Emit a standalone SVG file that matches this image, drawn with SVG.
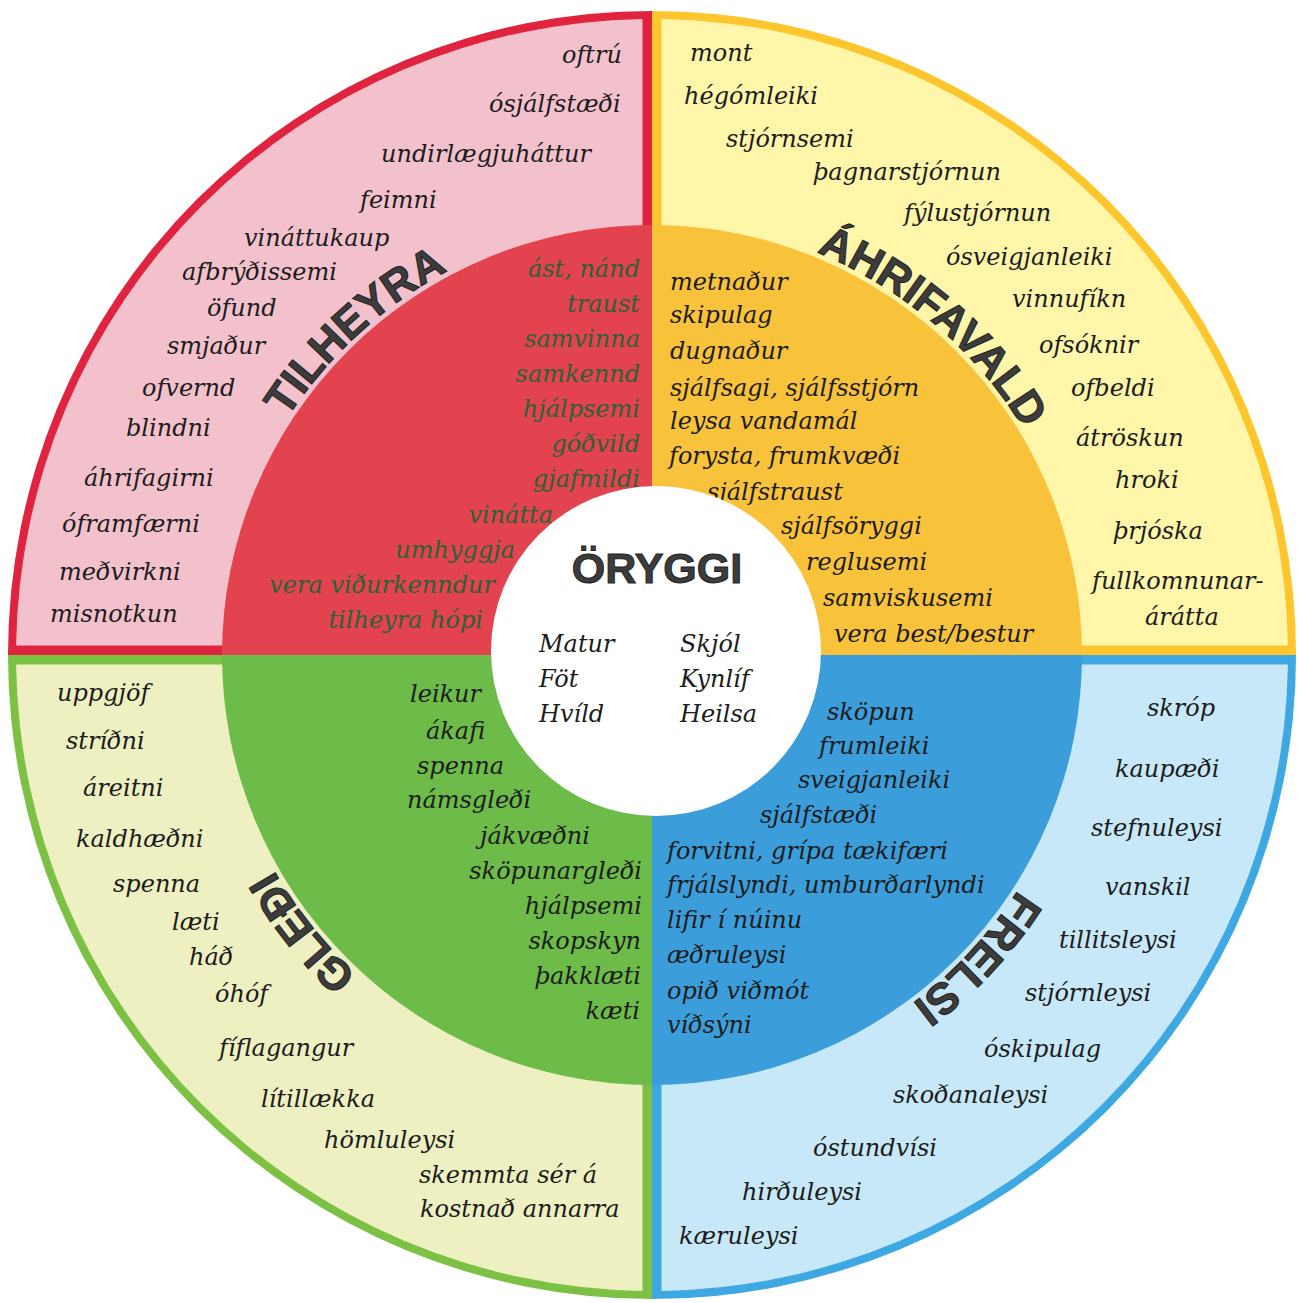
<svg xmlns="http://www.w3.org/2000/svg" width="1298" height="1303" viewBox="0 0 1298 1303">
  <style>
    .t { font-family: "DejaVu Serif", "Liberation Serif", serif; font-style: italic; font-size: 24px; fill: #1c1c1c; }
    .gr { fill: #2a6236; }
    .end { text-anchor: end; }
    .lab { font-family: "Liberation Sans", Arial, sans-serif; font-weight: bold; font-size: 44px; fill: #3c3c3c; stroke: #1f1f1f; stroke-width: 1; }
    .core { font-family: "Liberation Sans", Arial, sans-serif; font-weight: bold; font-size: 43px; fill: #3c3c3c; stroke: #1f1f1f; stroke-width: 1; }
  </style>
  <defs>
    <!-- baseline arcs (r = 435) for the quadrant titles, centred on the wheel hub -->
    <path id="arc-tl" d="M220.72,598.23 A435,435 0 0,1 633.03,220.41"/>
    <path id="arc-tr" d="M655.80,220.02 A435,435 0 0,1 1081.04,583.20"/>
    <path id="arc-bl" d="M565.27,1081.27 A435,435 0 0,1 217.15,643.61"/>
    <path id="arc-br" d="M1086.40,677.77 A435,435 0 0,1 705.01,1086.76"/>
  </defs>

  <rect width="1298" height="1303" fill="#ffffff"/>

  <!-- Top-left: belonging -->
  <g id="q-tilheyra">
    <path d="M652,655 L652,11 A644,644 0 0,0 8,655 Z" fill="#e0243f"/>
    <path d="M642.5,645.5 L642.5,19.07 A636,636 0 0,0 16.07,645.5 Z" fill="#f3c1cc"/>
    <path d="M652,655 L652,225 A430,430 0 0,0 222,655 Z" fill="#e3434e"/>
    <text class="t" x="562" y="63">oftrú</text>
    <text class="t" x="489" y="112">ósjálfstæði</text>
    <text class="t" x="381" y="162">undirlægjuháttur</text>
    <text class="t" x="360" y="208">feimni</text>
    <text class="t" x="244" y="246">vináttukaup</text>
    <text class="t" x="182" y="280">afbrýðissemi</text>
    <text class="t" x="207" y="316">öfund</text>
    <text class="t" x="167" y="354">smjaður</text>
    <text class="t" x="142" y="396">ofvernd</text>
    <text class="t" x="126" y="436">blindni</text>
    <text class="t" x="84" y="486">áhrifagirni</text>
    <text class="t" x="62" y="532">óframfærni</text>
    <text class="t" x="59" y="580">meðvirkni</text>
    <text class="t" x="50" y="622">misnotkun</text>
    <text class="t gr end" x="640" y="277">ást, nánd</text>
    <text class="t gr end" x="640" y="312">traust</text>
    <text class="t gr end" x="640" y="347">samvinna</text>
    <text class="t gr end" x="640" y="382">samkennd</text>
    <text class="t gr end" x="640" y="417">hjálpsemi</text>
    <text class="t gr end" x="640" y="452">góðvild</text>
    <text class="t gr end" x="640" y="487">gjafmildi</text>
    <text class="t gr end" x="553" y="523">vinátta</text>
    <text class="t gr end" x="515" y="558">umhyggja</text>
    <text class="t gr end" x="495" y="593">vera viðurkenndur</text>
    <text class="t gr end" x="483" y="628">tilheyra hópi</text>
    <text class="lab"><textPath href="#arc-tl" startOffset="50%" text-anchor="middle">TILHEYRA</textPath></text>
  </g>

  <!-- Top-right: influence -->
  <g id="q-ahrifavald">
    <path d="M652,655 L652,11 A644,644 0 0,1 1296,655 Z" fill="#fcc62c"/>
    <path d="M661.5,645.5 L661.5,19.07 A636,636 0 0,1 1287.93,645.5 Z" fill="#fff6a9"/>
    <path d="M652,655 L652,225 A430,430 0 0,1 1082,655 Z" fill="#f9c23b"/>
    <text class="t" x="690" y="61">mont</text>
    <text class="t" x="684" y="104">hégómleiki</text>
    <text class="t" x="726" y="147">stjórnsemi</text>
    <text class="t" x="813" y="180">þagnarstjórnun</text>
    <text class="t" x="904" y="221">fýlustjórnun</text>
    <text class="t" x="946" y="265">ósveigjanleiki</text>
    <text class="t" x="1012" y="307">vinnufíkn</text>
    <text class="t" x="1039" y="353">ofsóknir</text>
    <text class="t" x="1071" y="396">ofbeldi</text>
    <text class="t" x="1076" y="446">átröskun</text>
    <text class="t" x="1115" y="488">hroki</text>
    <text class="t" x="1113" y="539">þrjóska</text>
    <text class="t" x="1092" y="589">fullkomnunar-</text>
    <text class="t" x="1145" y="625">árátta</text>
    <text class="t" x="670" y="290">metnaður</text>
    <text class="t" x="670" y="323">skipulag</text>
    <text class="t" x="670" y="359">dugnaður</text>
    <text class="t" x="670" y="396">sjálfsagi, sjálfsstjórn</text>
    <text class="t" x="670" y="429">leysa vandamál</text>
    <text class="t" x="669" y="464">forysta, frumkvæði</text>
    <text class="t" x="707" y="500">sjálfstraust</text>
    <text class="t" x="781" y="534">sjálfsöryggi</text>
    <text class="t" x="806" y="570">reglusemi</text>
    <text class="t" x="823" y="606">samviskusemi</text>
    <text class="t" x="834" y="642">vera best/bestur</text>
    <text class="lab"><textPath href="#arc-tr" startOffset="50%" text-anchor="middle">ÁHRIFAVALD</textPath></text>
  </g>

  <!-- Bottom-left: joy -->
  <g id="q-gledi">
    <path d="M652,655 L8,655 A644,644 0 0,0 652,1299 Z" fill="#7cc144"/>
    <path d="M642.5,664.5 L16.07,664.5 A636,636 0 0,0 642.5,1290.93 Z" fill="#eef0c1"/>
    <path d="M652,655 L222,655 A430,430 0 0,0 652,1085 Z" fill="#6dbb48"/>
    <text class="t" x="57" y="701">uppgjöf</text>
    <text class="t" x="66" y="749">stríðni</text>
    <text class="t" x="83" y="796">áreitni</text>
    <text class="t" x="76" y="847">kaldhæðni</text>
    <text class="t" x="113" y="892">spenna</text>
    <text class="t" x="172" y="930">læti</text>
    <text class="t" x="189" y="965">háð</text>
    <text class="t" x="215" y="1002">óhóf</text>
    <text class="t" x="219" y="1056">fíflagangur</text>
    <text class="t" x="261" y="1107">lítillækka</text>
    <text class="t" x="324" y="1148">hömluleysi</text>
    <text class="t" x="419" y="1183">skemmta sér á</text>
    <text class="t" x="420" y="1217">kostnað annarra</text>
    <text class="t" x="410" y="702">leikur</text>
    <text class="t" x="426" y="739">ákafi</text>
    <text class="t" x="417" y="774">spenna</text>
    <text class="t" x="407" y="808">námsgleði</text>
    <text class="t" x="480" y="844">jákvæðni</text>
    <text class="t end" x="642" y="879">sköpunargleði</text>
    <text class="t end" x="642" y="914">hjálpsemi</text>
    <text class="t end" x="641" y="949">skopskyn</text>
    <text class="t end" x="641" y="984">þakklæti</text>
    <text class="t end" x="640" y="1019">kæti</text>
    <text class="lab"><textPath href="#arc-bl" startOffset="50%" text-anchor="middle">GLEÐI</textPath></text>
  </g>

  <!-- Bottom-right: freedom -->
  <g id="q-frelsi">
    <path d="M652,655 L1296,655 A644,644 0 0,1 652,1299 Z" fill="#3ea8e2"/>
    <path d="M661.5,664.5 L1287.93,664.5 A636,636 0 0,1 661.5,1290.93 Z" fill="#c7e8f8"/>
    <path d="M652,655 L1082,655 A430,430 0 0,1 652,1085 Z" fill="#3b9edb"/>
    <text class="t" x="1147" y="716">skróp</text>
    <text class="t" x="1115" y="777">kaupæði</text>
    <text class="t" x="1091" y="836">stefnuleysi</text>
    <text class="t" x="1105" y="895">vanskil</text>
    <text class="t" x="1059" y="948">tillitsleysi</text>
    <text class="t" x="1025" y="1001">stjórnleysi</text>
    <text class="t" x="984" y="1057">óskipulag</text>
    <text class="t" x="893" y="1103">skoðanaleysi</text>
    <text class="t" x="813" y="1156">óstundvísi</text>
    <text class="t" x="742" y="1200">hirðuleysi</text>
    <text class="t" x="679" y="1244">kæruleysi</text>
    <text class="t" x="827" y="720">sköpun</text>
    <text class="t" x="819" y="754">frumleiki</text>
    <text class="t" x="798" y="788">sveigjanleiki</text>
    <text class="t" x="760" y="823">sjálfstæði</text>
    <text class="t" x="667" y="859">forvitni, grípa tækifæri</text>
    <text class="t" x="667" y="893">frjálslyndi, umburðarlyndi</text>
    <text class="t" x="667" y="928">lifir í núinu</text>
    <text class="t" x="667" y="963">æðruleysi</text>
    <text class="t" x="667" y="999">opið viðmót</text>
    <text class="t" x="667" y="1033">víðsýni</text>
    <text class="lab"><textPath href="#arc-br" startOffset="50%" text-anchor="middle">FRELSI</textPath></text>
  </g>

  <!-- Hub: basic security needs -->
  <g id="core-oryggi">
    <circle cx="656" cy="651" r="165" fill="#ffffff"/>
    <text class="core" x="657" y="583" text-anchor="middle">ÖRYGGI</text>
    <text class="t" x="539" y="652">Matur</text>
    <text class="t" x="539" y="687">Föt</text>
    <text class="t" x="539" y="722">Hvíld</text>
    <text class="t" x="680" y="652">Skjól</text>
    <text class="t" x="680" y="687">Kynlíf</text>
    <text class="t" x="680" y="722">Heilsa</text>
  </g>
</svg>
